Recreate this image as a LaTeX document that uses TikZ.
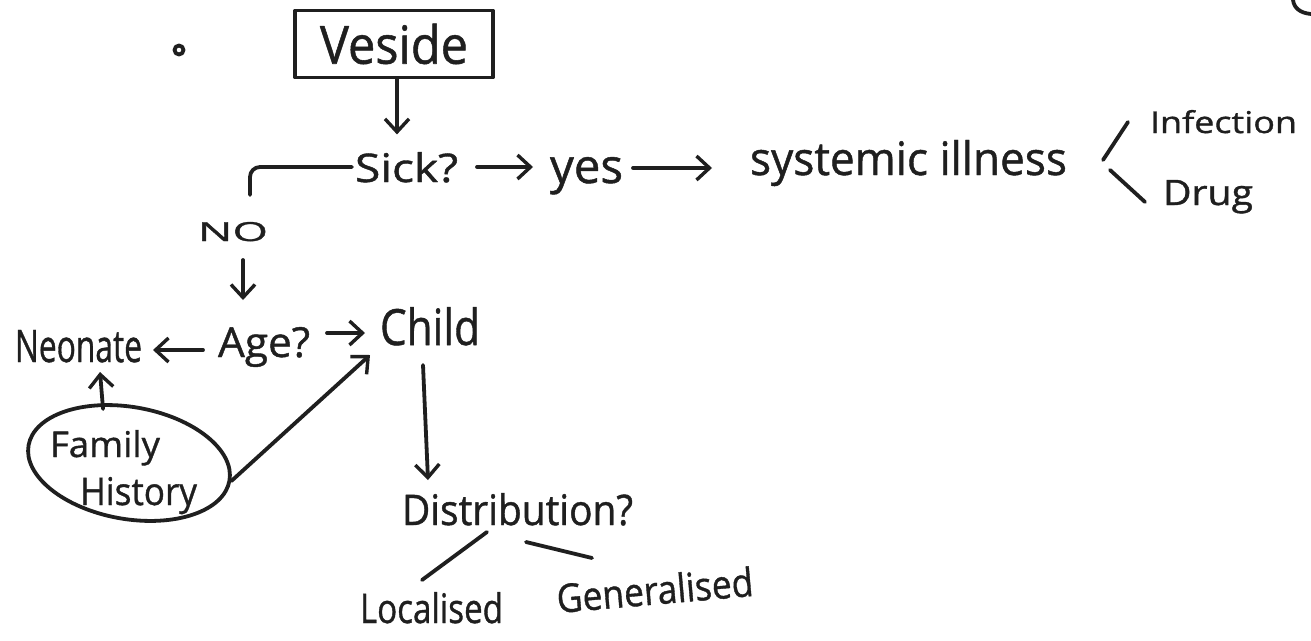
\documentclass[tikz,border=0pt]{standalone}
\usepackage{fontspec}
\setmainfont{Open Sans}[FakeBold=1]
\usepackage{graphicx}
\usetikzlibrary{arrows.meta,shapes.geometric}
\colorlet{ink}{black!88}
% hand-sized label: width, height above baseline, text
\newcommand\hand[3]{\resizebox{#1pt}{#2pt}{#3}}

\begin{document}
\begin{tikzpicture}[x=1pt,y=-1pt,line width=3.8pt,draw=ink,line cap=round,line join=round,
  lbl/.style={anchor=base west,inner sep=0pt,outer sep=0pt,text=ink},
  arr/.style={-{Straight Barb[length=13pt,width=24pt,line width=3.4pt]}}]
\useasboundingbox (0,0) rectangle (1311,640);
\fill[white] (0,0) rectangle (1311,640);

% bullet and title box
\draw (179,50) circle[radius=4.5pt];
\node[draw=ink,minimum width=198pt,minimum height=67pt,inner sep=0pt,text=ink] (vbox) at (394,44) {\hand{148}{40}{Veside}};

% first question row
\node[lbl] (sick) at (355,182) {\hand{103}{30}{Sick?}};
\node[lbl] (yes)  at (550,183) {\hand{73}{26}{yes}};
\node[lbl] (sys)  at (750,175) {\hand{317}{35}{systemic illness}};
\node[lbl] (inf)  at (1150,133) {\hand{147}{23}{Infection}};
\node[lbl] (drug) at (1163,205) {\hand{90}{25}{Drug}};

% left branch
\node[lbl] (no)    at (198,241) {\hand{70}{19}{NO}};
\node[lbl] (neo)   at (15,362)  {\hand{127}{32}{Neonate}};
\node[lbl] (age)   at (218,357) {\hand{92}{30}{Age?}};
\node[lbl] (child) at (380,345) {\hand{100}{38}{Child}};

% family history bubble
\node[ellipse,draw=ink,minimum width=204pt,minimum height=112pt,rotate=-10] (ring) at (129,463) {};
\node[lbl] (fam)  at (50,457) {\hand{110}{27}{Family}};
\node[lbl] (hist) at (80,505) {\hand{117}{28}{History}};

% distribution
\node[lbl] (dist) at (402,525) {\hand{231}{32}{Distribution?}};
\node[lbl] (loc)  at (360,623) {\hand{143}{31}{Localised}};
\node[lbl,rotate=5] (gen) at (558,613) {\hand{197}{30}{Generalised}};

% connectors
\draw[arr] ([xshift=3pt]vbox.south) -- ([xshift=3pt,yshift=-55pt]vbox.south);
\draw[rounded corners=10pt] ([xshift=-3pt,yshift=15pt]sick.base west) -| ([xshift=52pt,yshift=46pt]no.base west);
\draw[arr] ([xshift=19pt,yshift=15pt]sick.base east) -- ([xshift=-17pt,yshift=16pt]yes.base west);
\draw[arr] ([xshift=10pt,yshift=15pt]yes.base east) -- ([xshift=-38pt,yshift=7pt]sys.base west);
\draw ([xshift=36pt,yshift=15pt]sys.base east) -- ([xshift=-22pt,yshift=11pt]inf.base west);
\draw ([xshift=43pt,yshift=5pt]sys.base east) -- ([xshift=-18pt,yshift=3pt]drug.base west);

\draw[arr] ([xshift=45pt,yshift=-19pt]no.base west) -- ([xshift=25pt,yshift=57pt]age.base west);
\draw[arr] ([xshift=-15pt,yshift=7pt]age.base west) -- ([xshift=11pt,yshift=12pt]neo.base east);
\draw[arr] ([xshift=17pt,yshift=24pt]age.base east) -- ([xshift=-15pt,yshift=12pt]child.base west);
\draw[arr] ([xshift=-36pt,yshift=-3pt]ring.north) -- ([xshift=85pt,yshift=-10pt]neo.base west);
\draw[arr] (ring.east) -- ([xshift=-10pt,yshift=-10pt]child.base west);
\draw[arr] ([xshift=43pt,yshift=-20pt]child.base west) -- ([xshift=26pt,yshift=45pt]dist.base west);

\draw ([xshift=85pt,yshift=-7pt]dist.base west) -- ([xshift=62pt,yshift=43pt]loc.base west);
\draw ([xshift=124pt,yshift=-17pt]dist.base west) -- ([xshift=34pt,yshift=55pt]gen.base west);

% stroke cut off at the top-right corner
\draw (1293,0) .. controls (1294,8) and (1300,13) .. (1311,14);
\end{tikzpicture}
\end{document}
